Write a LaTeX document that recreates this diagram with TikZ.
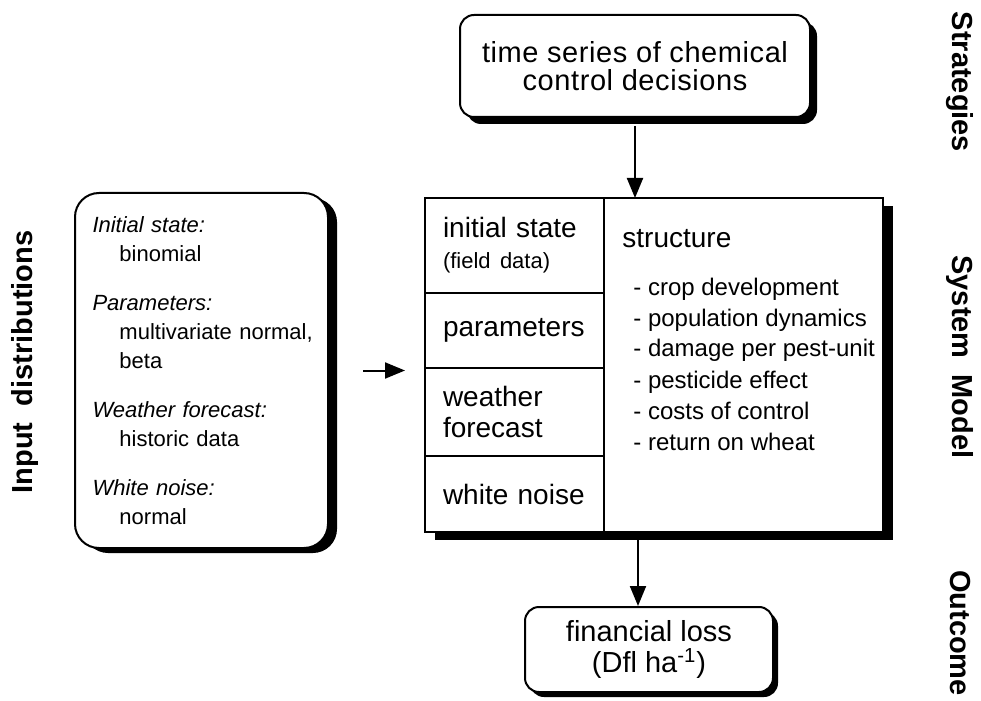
\documentclass[tikz,border=0pt]{standalone}
\usepackage{fontspec}
\setmainfont{Liberation Sans}
\usetikzlibrary{arrows.meta,positioning,shadows,backgrounds}

\begin{document}
\begin{tikzpicture}[x=0.5pt,y=-0.5pt,>={Triangle[length=10pt,width=8pt]}]
% box shapes
\tikzstyle{rbox}=[draw=black,line width=1pt,fill=white,rounded corners=7pt,align=center]
\tikzstyle{cell}=[draw=black,line width=1pt,fill=white,outer sep=0pt,inner xsep=9pt,
  minimum width=89.5pt,text width=71.5pt,align=left,font=\fontsize{14}{15.5}\selectfont]
\tikzstyle{item}=[anchor=base west,inner sep=0pt,font=\fontsize{12}{14}\selectfont]
\tikzstyle{side}=[inner sep=0pt,font=\bfseries\fontsize{14.5}{18}\selectfont]
\useasboundingbox (0,0) rectangle (981,701);

% strategies
\node[rbox,minimum width=175pt,minimum height=51pt,font=\fontsize{14.5}{14}\selectfont,
  drop shadow={shadow xshift=3.5pt,shadow yshift=-3.5pt,fill=black,opacity=1}]
  (strat) at (635,66) {\addfontfeatures{LetterSpace=2}time series of chemical\\
  \addfontfeatures{LetterSpace=2}control decisions};

% input distributions
\node[rbox,rounded corners=12pt,minimum width=126.5pt,minimum height=177.5pt,
  align=left,text width=113pt,inner xsep=6.75pt,font=\fontsize{11}{14.5}\selectfont,
  drop shadow={shadow xshift=4.5pt,shadow yshift=-2.5pt,fill=black,opacity=1}]
  (input) at (201.5,370.5) {\hspace*{2pt}\textit{Initial state:}\\
  \hspace*{15.5pt}binomial\\[10pt]
  \hspace*{2pt}\textit{Parameters:}\\
  \hspace*{15.5pt}multivariate normal,\\
  \hspace*{15.5pt}beta\\[10pt]
  \hspace*{2pt}\textit{Weather forecast:}\\
  \hspace*{15.5pt}historic data\\[10pt]
  \hspace*{2pt}\textit{White noise:}\\
  \hspace*{15.5pt}normal};

% system model
\node[cell,minimum height=47.5pt,anchor=north west] (init) at (425,198)
  {initial state\\{\fontsize{11}{13}\selectfont (field data)}};
\node[cell,minimum height=37.5pt,below=0pt of init] (params) {parameters};
\node[cell,minimum height=44pt,below=0pt of params] (weather) {weather\\forecast};
\node[cell,minimum height=38pt,below=0pt of weather] (noise) {white noise};
\node[cell,minimum width=139.5pt,minimum height=167pt,anchor=north west] (struct) at (init.north east) {};
\begin{scope}[on background layer]
\fill[black] ([xshift=5pt,yshift=-4pt]init.north west) rectangle ([xshift=5pt,yshift=-4pt]struct.south east);
\end{scope}

\node[item,font=\fontsize{14}{16}\selectfont] (structlbl) at (622,248) {structure};
\foreach \txt [count=\i from 0] in {crop development,population dynamics,damage per pest-unit,
  pesticide effect,costs of control,return on wheat}
\node[item] (S-\i) at (633,{295+31*\i}) {- \txt};

% outcome
\node[rbox,minimum width=124pt,minimum height=42.5pt,font=\fontsize{14.5}{15.5}\selectfont,
  drop shadow={shadow xshift=2.5pt,shadow yshift=-2.5pt,fill=black,opacity=1}]
  (loss) at (649,649.5) {financial loss\\(Dfl ha\textsuperscript{-1})};
\coordinate (lossin) at ([xshift=-5.5pt]loss.north);

% side labels
\node[side,rotate=-90] (lstrat) at (960,82) {Strategies};
\node[side,rotate=-90] (lmodel) at (960,357) {System\ \ Model};
\node[side,rotate=-90] (lout) at (960,633) {Outcome};
\node[side,rotate=90] (lin) at (25,362) {Input\ \ distributions};

% arrows
\draw[->,line width=1pt,shorten <=4pt] (strat.south) -- (strat.south |- struct.north);
\draw[->,line width=1pt,shorten <=4pt] (lossin |- struct.south) -- (lossin);
\draw[->,line width=1pt,shorten <=17pt,shorten >=10pt] (input.east) -- (input.east -| init.west);
\end{tikzpicture}
\end{document}
